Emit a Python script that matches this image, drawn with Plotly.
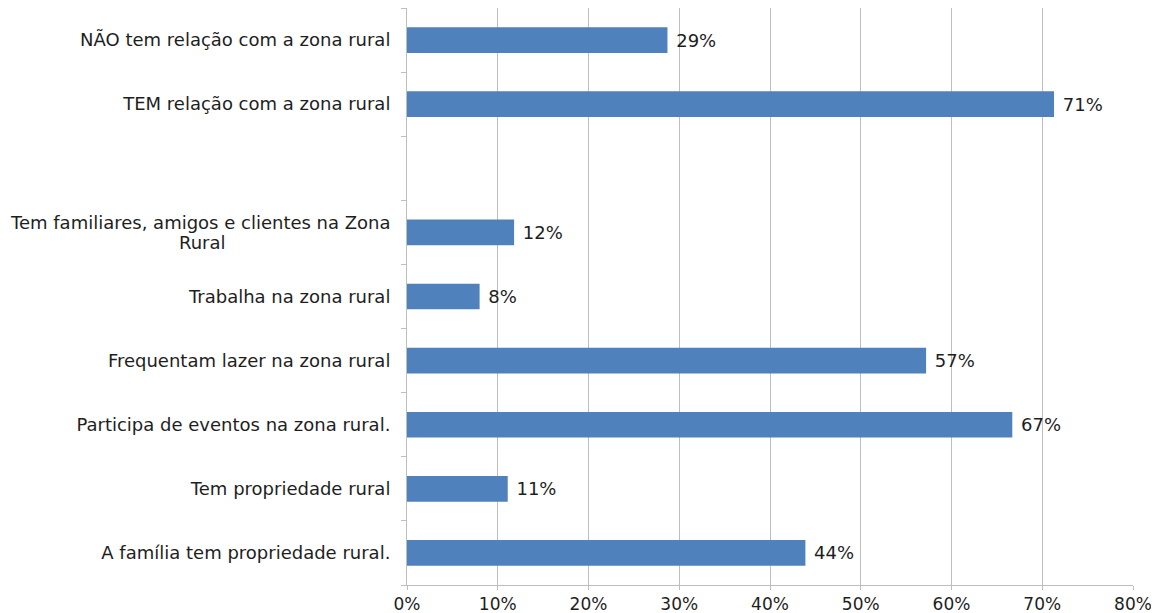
import plotly.graph_objects as go

categories = [
    "A família tem propriedade rural.",
    "Tem propriedade rural",
    "Participa de eventos na zona rural.",
    "Frequentam lazer na zona rural",
    "Trabalha na zona rural",
    "Tem familiares, amigos e clientes na Zona<br>Rural",
    " ",
    "TEM relação com a zona rural",
    "NÃO tem relação com a zona rural",
]
values = [0.439, 0.111, 0.667, 0.572, 0.080, 0.118, None, 0.713, 0.287]
tick_vals = [0, 0.1, 0.2, 0.3, 0.4, 0.5, 0.6, 0.7, 0.8]

FONT = "DejaVu Sans, Arial"
TXT = "#1e1e1e"
labels = ["" if v is None else " {:.0%}".format(v) for v in values]
# the wrapped label is drawn centred as two annotation lines
tick_text = ["" if "<br>" in c else c for c in categories]

fig = go.Figure(go.Bar(
    x=values, y=categories, orientation="h",
    marker=dict(color="#4F81BD", line=dict(width=0)),
    width=0.4,
    text=labels, textposition="outside",
    textfont=dict(size=18, color=TXT, family=FONT),
    cliponaxis=False,
))

LINE1_W = 379  # approx rendered width of first line
for c in categories:
    if "<br>" in c:
        l1, l2 = c.split("<br>")
        fig.add_annotation(
            x=0, xref="paper", y=c, yref="y", text=l1, showarrow=False,
            xanchor="right", yanchor="middle", xshift=-15, yshift=10,
            font=dict(size=18, color=TXT, family=FONT), borderpad=0,
        )
        fig.add_annotation(
            x=0, xref="paper", y=c, yref="y", text=l2, showarrow=False,
            xanchor="center", yanchor="middle", xshift=-15 - LINE1_W / 2, yshift=-10,
            font=dict(size=18, color=TXT, family=FONT), borderpad=0,
        )

# page body has an 8px margin, compensated in the plot margins
fig.update_layout(
    width=1159, height=613,
    margin=dict(l=399, r=34, t=0, b=36),
    paper_bgcolor="white", plot_bgcolor="white",
    showlegend=False,
    font=dict(family=FONT, size=17, color=TXT),
    xaxis=dict(
        range=[0, 0.8], tickvals=tick_vals, tickformat=".0%",
        showgrid=True, gridcolor="#BEBEBE", gridwidth=1,
        showline=True, linecolor="#BEBEBE", linewidth=1,
        ticks="outside", ticklen=4, tickcolor="#BEBEBE",
        tickfont=dict(size=17), zeroline=False, automargin=False,
    ),
    yaxis=dict(
        type="category", categoryorder="array", categoryarray=categories,
        tickvals=categories, ticktext=tick_text,
        tickson="boundaries", ticks="outside", ticklen=5, tickcolor="#BEBEBE",
        showline=True, linecolor="#BEBEBE", linewidth=1,
        showgrid=False, ticklabelstandoff=12, automargin=False,
        tickfont=dict(size=18),
    ),
)

fig.write_html("out.html")
